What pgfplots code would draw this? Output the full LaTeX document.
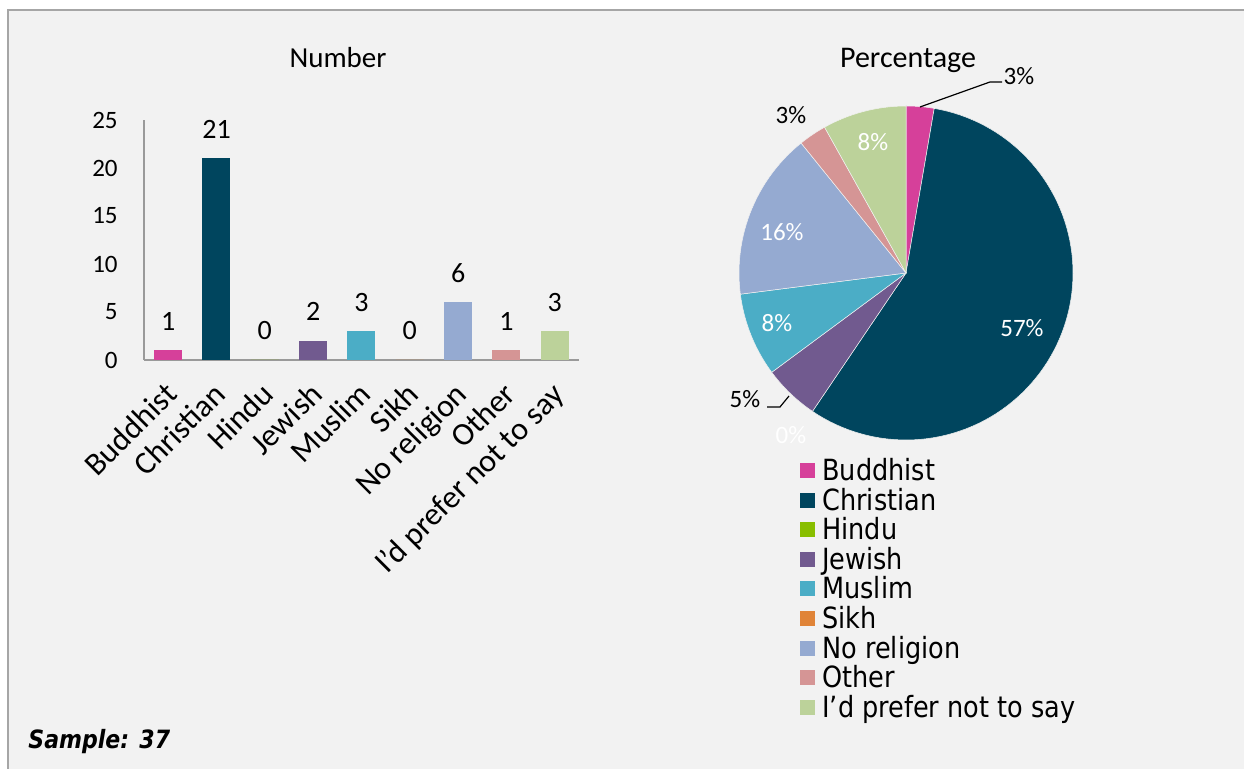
\documentclass[border=0pt]{standalone}
\usepackage{fontspec}
\setmainfont{Carlito}
\newfontfamily\legfont[FakeStretch=0.875]{DejaVu Sans}
\usepackage{pgfplots}
\pgfplotsset{compat=1.18}
\definecolor{bgc}{HTML}{F2F2F2}
\definecolor{bordc}{HTML}{A6A6A6}
\definecolor{axc}{HTML}{9A9A9A}
\definecolor{cBud}{HTML}{D6409A}
\definecolor{cChr}{HTML}{00455E}
\definecolor{cHin}{HTML}{88BE00}
\definecolor{cJew}{HTML}{715A8F}
\definecolor{cMus}{HTML}{4BADC6}
\definecolor{cSik}{HTML}{E08438}
\definecolor{cNor}{HTML}{95AAD1}
\definecolor{cOth}{HTML}{D59595}
\definecolor{cPre}{HTML}{BCD29A}
% counts
\def\nBud{1}\def\nChr{21}\def\nHin{0}\def\nJew{2}\def\nMus{3}
\def\nSik{0}\def\nNor{6}\def\nOth{1}\def\nPre{3}
\begin{document}
\begin{tikzpicture}[x=0.5pt,y=0.5pt]
\useasboundingbox (0,0) rectangle (1244,769);
\fill[white] (0,0) rectangle (1244,769);
\fill[bgc] (8,0) rectangle (1244,759);
\draw[bordc, line width=1.2pt] (8,0) -- (8,759) -- (1244,759);

\pgfmathsetmacro\tot{\nBud+\nChr+\nHin+\nJew+\nMus+\nSik+\nNor+\nOth+\nPre}
\pgfmathsetmacro\aA{90}
\pgfmathsetmacro\aB{\aA-360*\nBud/\tot}
\pgfmathsetmacro\aC{\aB-360*\nChr/\tot}
\pgfmathsetmacro\aD{\aC-360*\nHin/\tot}
\pgfmathsetmacro\aE{\aD-360*\nJew/\tot}
\pgfmathsetmacro\aF{\aE-360*\nMus/\tot}
\pgfmathsetmacro\aG{\aF-360*\nSik/\tot}
\pgfmathsetmacro\aH{\aG-360*\nNor/\tot}
\pgfmathsetmacro\aI{\aH-360*\nOth/\tot}
\pgfmathsetmacro\aJ{\aI-360*\nPre/\tot}

% ---------------- bar chart ----------------
\begin{axis}[
  at={(72pt,204.5pt)}, anchor=south west,
  scale only axis, width=217.5pt, height=120pt,
  xmin=-0.5, xmax=8.5, ymin=0, ymax=25,
  axis x line=bottom, axis y line=left,
  axis line style={-, draw=axc, line width=1pt},
  ytick={0,5,10,15,20,25},
  xtick={0,1,2,3,4,5,6,7,8},
  xticklabels={Buddhist,Christian,Hindu,Jewish,Muslim,Sikh,No religion,Other,I’d prefer not to say},
  major tick length=0pt,
  /pgf/number format/assume math mode=true,
  yticklabel style={font=\fontsize{12.5}{12.5}\selectfont, anchor=east, inner sep=0pt, xshift=-13pt},
  xticklabel style={font=\fontsize{16}{16}\selectfont, xshift=-2.5pt, yshift=-10pt, rotate=45, anchor=north east, inner sep=0pt},
  ybar, bar width=14pt, bar shift=0pt,
  nodes near coords,
  every node near coord/.append style={font=\fontsize{14}{14}\selectfont, anchor=center, yshift=14.5pt, text=black, inner sep=0pt},
  clip=false,
]
\addplot[fill=cBud, draw=none] coordinates {(0,\nBud)};
\addplot[fill=cChr, draw=none] coordinates {(1,\nChr)};
\addplot[fill=cHin, draw=none] coordinates {(2,\nHin)};
\addplot[fill=cJew, draw=none] coordinates {(3,\nJew)};
\addplot[fill=cMus, draw=none] coordinates {(4,\nMus)};
\addplot[fill=cSik, draw=none] coordinates {(5,\nSik)};
\addplot[fill=cNor, draw=none] coordinates {(6,\nNor)};
\addplot[fill=cOth, draw=none] coordinates {(7,\nOth)};
\addplot[fill=cPre, draw=none] coordinates {(8,\nPre)};
\end{axis}

% ---------------- pie chart ----------------
\begin{axis}[
  at={(453pt,248pt)}, anchor=center,
  scale only axis, width=167pt, height=167pt,
  xmin=-1, xmax=1, ymin=-1, ymax=1,
  hide axis, clip=false,
  legend cell align=left,
  legend image code/.code={\fill[#1, draw=none] (0pt,-3.75pt) rectangle (7.5pt,3.75pt);},
  legend style={at={(0.1826,-0.0479)}, anchor=north west, draw=none, fill=none,
    inner sep=0pt, row sep=0.81pt,
    font=\legfont\fontsize{14.6}{14.6}\selectfont,
    nodes={inner sep=0pt, text height=12pt, text depth=2pt},
    /tikz/every odd column/.append style={column sep=3.5pt}},
]
\addplot[forget plot, fill=cBud, draw=bgc, line width=0.25pt, domain=\aB:\aA, samples=10] ({cos(x)},{sin(x)}) -- (0,0) -- cycle;
\addplot[forget plot, fill=cChr, draw=bgc, line width=0.25pt, domain=\aC:\aB, samples=90] ({cos(x)},{sin(x)}) -- (0,0) -- cycle;
\addplot[forget plot, fill=cJew, draw=bgc, line width=0.25pt, domain=\aE:\aD, samples=12] ({cos(x)},{sin(x)}) -- (0,0) -- cycle;
\addplot[forget plot, fill=cMus, draw=bgc, line width=0.25pt, domain=\aF:\aE, samples=15] ({cos(x)},{sin(x)}) -- (0,0) -- cycle;
\addplot[forget plot, fill=cNor, draw=bgc, line width=0.25pt, domain=\aH:\aG, samples=30] ({cos(x)},{sin(x)}) -- (0,0) -- cycle;
\addplot[forget plot, fill=cOth, draw=bgc, line width=0.25pt, domain=\aI:\aH, samples=10] ({cos(x)},{sin(x)}) -- (0,0) -- cycle;
\addplot[forget plot, fill=cPre, draw=bgc, line width=0.25pt, domain=\aJ:\aI, samples=15] ({cos(x)},{sin(x)}) -- (0,0) -- cycle;
\addlegendimage{fill=cBud}\addlegendentry{Buddhist}
\addlegendimage{fill=cChr}\addlegendentry{Christian}
\addlegendimage{fill=cHin}\addlegendentry{Hindu}
\addlegendimage{fill=cJew}\addlegendentry{Jewish}
\addlegendimage{fill=cMus}\addlegendentry{Muslim}
\addlegendimage{fill=cSik}\addlegendentry{Sikh}
\addlegendimage{fill=cNor}\addlegendentry{No religion}
\addlegendimage{fill=cOth}\addlegendentry{Other}
\addlegendimage{fill=cPre}\addlegendentry{I’d prefer not to say}
\end{axis}

% titles
\node[font=\fontsize{14.5}{14.5}\selectfont] at (338,711) {Number};
\node[font=\fontsize{15}{15}\selectfont] at (908,709) {Percentage};

% pie labels
\begin{scope}[every node/.style={font=\fontsize{12.5}{12.5}\selectfont, inner sep=0pt}]
\node[text=black] at (1019,693) {3\%};
\node[text=white] at (1022,441) {57\%};
\node[text=white] at (791,334) {0\%};
\node[text=black] at (745,370) {5\%};
\node[text=white] at (777,446) {8\%};
\node[text=white] at (782,537) {16\%};
\node[text=black] at (791,654) {3\%};
\node[text=white] at (873,627) {8\%};
\end{scope}
\draw[black, line width=0.6pt] (920,662) -- (990,687) -- (1002,687);
\draw[black, line width=0.6pt] (767,362) -- (780,362) -- (789,373);

% sample
\node[anchor=base west, inner sep=0pt, font=\legfont\bfseries\itshape\fontsize{12.6}{12.6}\selectfont] at (28,20) {Sample: 37};
\end{tikzpicture}
\end{document}
